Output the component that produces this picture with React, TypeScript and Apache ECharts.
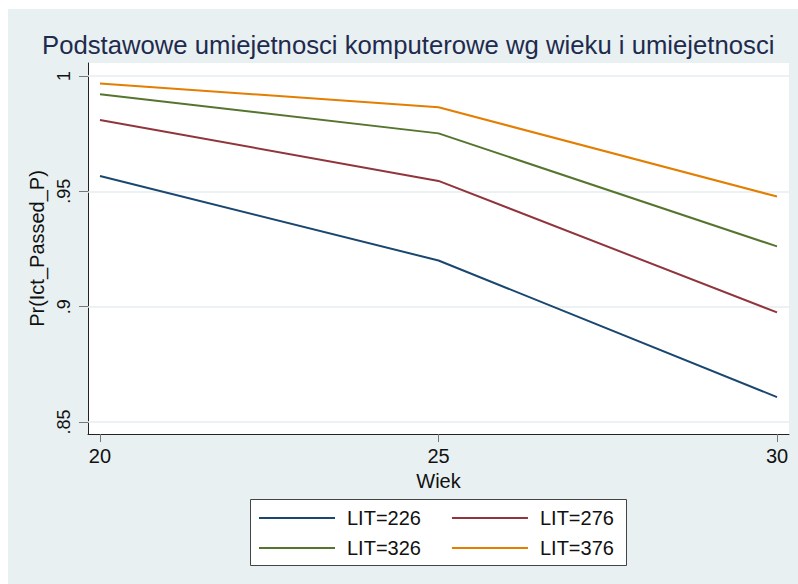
import React, { useEffect, useRef } from "react";
import * as echarts from "echarts";

const ages = [20, 25, 30];
const seriesNames = ["LIT=226", "LIT=276", "LIT=326", "LIT=376"];
const lit226 = [0.9566, 0.92, 0.8608];
const lit276 = [0.9809, 0.9545, 0.8975];
const lit326 = [0.9921, 0.9751, 0.9261];
const lit376 = [0.9967, 0.9864, 0.9477];
const xTicks = [20, 25, 30];
const yTicks = [0.85, 0.9, 0.95, 1];
const yTickLabels = [".85", ".9", ".95", "1"];
const colors = ["#1a476f", "#90353b", "#55752f", "#e37e00"];

const FONT = "'Liberation Sans', Arial, sans-serif";
const BG = "#e8f0f2";

export default function App() {
  const ref = useRef<HTMLDivElement>(null);
  useEffect(() => {
    if (!ref.current) return;
    const chart = echarts.init(ref.current, undefined, { renderer: "svg" });
    const values = [lit226, lit276, lit326, lit376];
    const series: any[] = values.map((vals, i) => ({
      name: seriesNames[i],
      type: "line",
      data: ages.map((a, j) => [a, vals[j]]),
      symbol: "none",
      lineStyle: { width: 2, color: colors[i] },
      itemStyle: { color: colors[i] },
      z: 3,
    }));
    series[0].markLine = {
      silent: true,
      symbol: "none",
      label: { show: false },
      lineStyle: { color: "#e6eef1", width: 1.5, type: "solid" },
      data: yTicks.map((v) => ({ yAxis: v })),
      z: 1,
    };
    chart.setOption({
      animation: false,
      backgroundColor: BG,
      textStyle: { fontFamily: FONT },
      title: {
        text: "Podstawowe umiejetnosci komputerowe wg wieku i umiejetnosci",
        left: 34,
        top: 23,
        padding: 0,
        textStyle: { fontFamily: FONT, fontSize: 25.7, fontWeight: "normal", color: "#1f2b4d" },
      },
      grid: {
        left: 80,
        right: 9,
        top: 54,
        bottom: 150,
        show: true,
        backgroundColor: "#ffffff",
        borderWidth: 0,
      },
      xAxis: {
        type: "value",
        min: 19.823,
        max: 30.177,
        name: "Wiek",
        nameLocation: "middle",
        nameGap: 34,
        nameTextStyle: { fontFamily: FONT, fontSize: 20, color: "#111" },
        axisLine: { show: true, onZero: false, lineStyle: { color: "#222", width: 1 } },
        axisTick: { show: true, length: 8, customValues: xTicks, lineStyle: { color: "#777" } },
        axisLabel: { customValues: xTicks, margin: 12, fontSize: 20, fontFamily: FONT, color: "#111" },
        splitLine: { show: false },
      },
      yAxis: {
        type: "value",
        min: 0.8448,
        max: 1.0056,
        name: "Pr(Ict_Passed_P)",
        nameLocation: "middle",
        nameRotate: 90,
        nameGap: 37,
        nameTextStyle: { fontFamily: FONT, fontSize: 20, color: "#111" },
        axisLine: { show: true, onZero: false, lineStyle: { color: "#222", width: 1 } },
        axisTick: { show: true, length: 9, customValues: yTicks, lineStyle: { color: "#777" } },
        axisLabel: {
          customValues: yTicks,
          rotate: 90,
          margin: 15,
          fontSize: 18,
          fontFamily: FONT,
          color: "#111",
          formatter: (v: number) => {
            const idx = yTicks.findIndex((t) => Math.abs(t - v) < 1e-6);
            return idx >= 0 ? yTickLabels[idx] : "";
          },
        },
        splitLine: { show: false },
      },
      graphic: [
        {
          type: "rect",
          left: 242,
          top: 490,
          z: 0,
          shape: { width: 376, height: 66 },
          style: { fill: "#ffffff", stroke: "#444", lineWidth: 1 },
        },
      ],
      legend: [
        {
          data: [seriesNames[0], seriesNames[1]],
          left: 251,
          top: 499,
          padding: 0,
          itemWidth: 76,
          itemHeight: 2,
          icon: "rect",
          itemGap: 31,
          textStyle: { fontFamily: FONT, fontSize: 20, color: "#111", padding: [0, 0, 0, 7] },
        },
        {
          data: [seriesNames[2], seriesNames[3]],
          left: 251,
          top: 529,
          padding: 0,
          itemWidth: 76,
          itemHeight: 2,
          icon: "rect",
          itemGap: 31,
          textStyle: { fontFamily: FONT, fontSize: 20, color: "#111", padding: [0, 0, 0, 7] },
        },
      ],
      series,
    });
    return () => chart.dispose();
  }, []);
  return (
    <div
      ref={ref}
      style={{ position: "absolute", left: 8, top: 9, width: 790, height: 575 }}
    />
  );
}
